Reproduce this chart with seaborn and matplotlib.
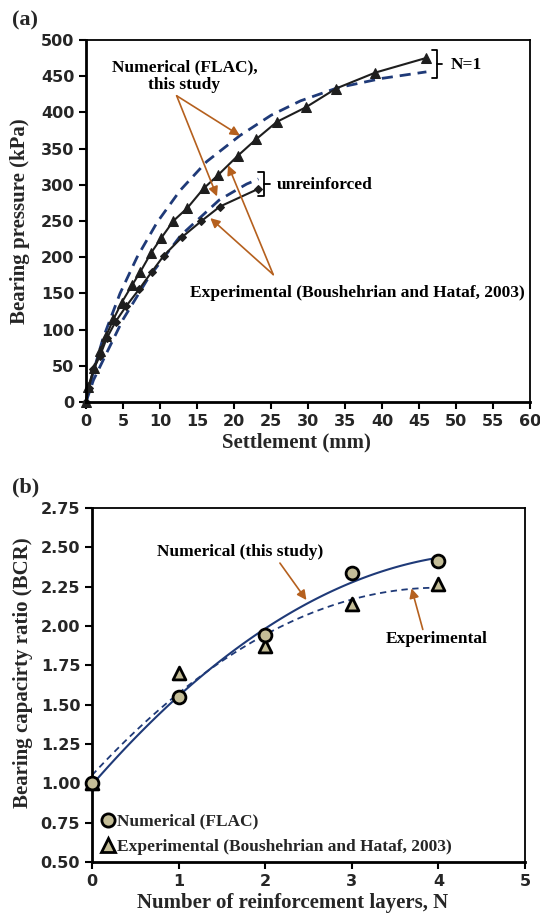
import numpy as np
import pandas as pd
import seaborn as sns
import matplotlib
matplotlib.use("Agg")
import matplotlib.pyplot as plt
from matplotlib.lines import Line2D

# ---------------- data: panel (a) ----------------
num_n1_settle = [0, 0.3, 1.1, 1.9, 2.7, 3.7, 4.8, 6.2, 7.3, 8.8, 10.2, 11.8, 13.7, 15.9, 17.8, 20.5, 23.0, 25.8, 29.7, 33.8, 39.1, 45.9]
num_n1_press = [0, 21, 47, 70, 91, 114, 137, 161, 179, 206, 227, 250, 268, 295, 313, 340, 363, 387, 407, 433, 455, 475]

num_unr_settle = [0, 0.4, 1.0, 1.9, 2.8, 4.0, 5.4, 7.2, 8.9, 10.5, 13.0, 15.6, 18.1, 23.2]
num_unr_press = [0, 20, 45, 64, 88, 111, 132, 156, 180, 202, 228, 250, 270, 294]

exp_n1_settle = [0, 1.0, 2.3, 4.6, 6.9, 9.6, 12.7, 16.3, 20.8, 25.0, 29.0, 34.0, 40.0, 46.0]
exp_n1_press = [0, 42, 88, 150, 200, 248, 292, 332, 368, 396, 416, 434, 447, 456]

exp_unr_settle = [0, 1.0, 2.8, 5.0, 8.4, 12.8, 18.0, 21.7, 23.3]
exp_unr_press = [0, 30, 68, 114, 171, 230, 279, 301, 308]

settle_ticks = list(range(0, 61, 5))
press_ticks = list(range(0, 501, 50))

# ---------------- data: panel (b) ----------------
n_layers = [0, 1, 2, 3, 4]
bcr_numerical = [1.00, 1.55, 1.94, 2.34, 2.41]
bcr_experimental = [1.00, 1.70, 1.87, 2.14, 2.27]
n_ticks = [0, 1, 2, 3, 4, 5]
bcr_ticks = [0.50, 0.75, 1.00, 1.25, 1.50, 1.75, 2.00, 2.25, 2.50, 2.75]

# ---------------- style ----------------
sns.set_style("ticks")
plt.rcParams["font.family"] = ["DejaVu Sans"]
SERIF = ["Liberation Serif", "DejaVu Serif"]
TICKFONT = ["DejaVu Sans"]
DASH = "#1F3A78"
SOLID = "#1E1E1E"
ARROW = "#B5601E"
TAN = "#C4BD97"

fig = plt.figure(figsize=(5.4, 9.17), dpi=100)
axA = fig.add_axes([86 / 540, 1 - 402 / 917, 444 / 540, 362 / 917])
axB = fig.add_axes([92 / 540, 1 - 862 / 917, 433 / 540, 354 / 917])


def style_axes(ax, tick_size):
    for s in ["left", "bottom"]:
        ax.spines[s].set_linewidth(2.0)
    for s in ["top", "right"]:
        ax.spines[s].set_linewidth(1.3)
    for s in ax.spines.values():
        s.set_color("black")
    ax.tick_params(direction="out", length=5, width=1.5, color="black", pad=3.5,
                   labelsize=tick_size, top=False, right=False)
    for lab in ax.get_xticklabels() + ax.get_yticklabels():
        lab.set_fontweight("bold")
        lab.set_family(TICKFONT)


# ---------------- panel (a) ----------------
sns.lineplot(x=exp_n1_settle, y=exp_n1_press, ax=axA, color=DASH, lw=2.0,
             linestyle=(0, (4, 2.5)), sort=False, estimator=None, clip_on=False)
sns.lineplot(x=exp_unr_settle, y=exp_unr_press, ax=axA, color=DASH, lw=2.0,
             linestyle=(0, (4, 2.5)), sort=False, estimator=None, clip_on=False)
sns.lineplot(x=num_n1_settle, y=num_n1_press, ax=axA, color=SOLID, lw=1.5,
             marker="^", markersize=7, markerfacecolor=SOLID, markeredgecolor=SOLID,
             sort=False, estimator=None, clip_on=False)
sns.lineplot(x=num_unr_settle, y=num_unr_press, ax=axA, color=SOLID, lw=1.5,
             marker="D", markersize=4.5, markerfacecolor=SOLID, markeredgecolor=SOLID,
             sort=False, estimator=None, clip_on=False)

axA.set_xlim(0, 60)
axA.set_ylim(0, 500)
axA.set_xticks(settle_ticks)
axA.set_yticks(press_ticks)
style_axes(axA, 11.5)
axA.set_xlabel("Settlement (mm)", family=SERIF, fontweight="bold", fontsize=15, va="center")
axA.set_ylabel("Bearing pressure (kPa)", family=SERIF, fontweight="bold", fontsize=15, va="center")
axA.xaxis.set_label_coords(0.474, -0.113)
axA.yaxis.set_label_coords(-0.149, 0.5)

txtkw = dict(family=SERIF, fontweight="bold", fontsize=12.5, color="black")
axA.text(13.3, 450, "Numerical (FLAC),\nthis study", ha="center", va="center",
         linespacing=1.1, **txtkw)
axA.text(36.7, 151, "Experimental (Boushehrian and Hataf, 2003)", ha="center", va="center", **txtkw)
axA.text(25.8, 300, "unreinforced", ha="left", va="center", **txtkw)
axA.text(49.3, 466, "N=1", ha="left", va="center", **txtkw)

arrkw = dict(arrowstyle="-|>", color=ARROW, lw=1.2, mutation_scale=14, shrinkA=0, shrinkB=0)
axA.annotate("", xy=(20.8, 368), xytext=(12.25, 423), arrowprops=arrkw)
axA.annotate("", xy=(17.7, 284), xytext=(12.25, 423), arrowprops=arrkw)
axA.annotate("", xy=(19.2, 327), xytext=(25.3, 176), arrowprops=arrkw)
axA.annotate("", xy=(16.8, 254), xytext=(25.3, 176), arrowprops=arrkw)

# curly-brace style brackets
axA.plot([46.8, 47.4, 47.4, 46.8], [486, 486, 447, 447], color="black", lw=1.3)
axA.plot([47.4, 48.1], [466.5, 466.5], color="black", lw=1.3)
axA.plot([23.2, 24.05, 24.05, 23.2], [317, 317, 284, 284], color="black", lw=1.3)
axA.plot([24.05, 24.9], [300.5, 300.5], color="black", lw=1.3)

fig.text(12 / 540, 1 - 20 / 917, "(a)", family=SERIF, fontweight="bold", fontsize=16,
         ha="left", va="center")

# ---------------- panel (b) ----------------
sns.regplot(x=n_layers, y=bcr_numerical, order=2, ci=None, scatter=False, truncate=True,
            ax=axB, line_kws=dict(color=DASH, lw=1.5))
sns.regplot(x=n_layers, y=bcr_experimental, order=2, ci=None, scatter=False, truncate=True,
            ax=axB, line_kws=dict(color=DASH, lw=1.3, linestyle=(0, (3.5, 2.5))))
sns.scatterplot(x=n_layers, y=bcr_experimental, ax=axB, marker="^", s=85, color=TAN,
                edgecolor="black", linewidth=2, zorder=5, clip_on=False)
sns.scatterplot(x=n_layers, y=bcr_numerical, ax=axB, marker="o", s=85, color=TAN,
                edgecolor="black", linewidth=2, zorder=6, clip_on=False)

axB.set_xlim(0, 5)
axB.set_ylim(0.5, 2.75)
axB.set_xticks(n_ticks)
axB.set_yticks(bcr_ticks)
axB.set_yticklabels([f"{v:.2f}" for v in bcr_ticks])
style_axes(axB, 11.5)
axB.set_xlabel("Number of reinforcement layers, N", family=SERIF, fontweight="bold",
               fontsize=15, va="center")
axB.set_ylabel("Bearing capacirty ratio (BCR)", family=SERIF, fontweight="bold",
               fontsize=15, va="center")
axB.xaxis.set_label_coords(0.463, -0.116)
axB.yaxis.set_label_coords(-0.160, 0.535)

axB.text(1.705, 2.472, "Numerical (this study)", ha="center", va="center", **txtkw)
axB.text(3.977, 1.915, "Experimental", ha="center", va="center", **txtkw)
axB.annotate("", xy=(2.476, 2.165), xytext=(2.17, 2.40), arrowprops=arrkw)
axB.annotate("", xy=(3.69, 2.239), xytext=(3.82, 1.978), arrowprops=arrkw)

handles = [
    Line2D([], [], marker="o", linestyle="none", markersize=9.5, markerfacecolor=TAN,
           markeredgecolor="black", markeredgewidth=2),
    Line2D([], [], marker="^", linestyle="none", markersize=9.5, markerfacecolor=TAN,
           markeredgecolor="black", markeredgewidth=2),
]
leg = axB.legend(handles, ["Numerical (FLAC)", "Experimental (Boushehrian and Hataf, 2003)"],
                 loc="lower left", bbox_to_anchor=(-0.005, -0.011), frameon=False,
                 handlelength=0.9, handletextpad=0.05, labelspacing=0.55, borderaxespad=0.2,
                 prop=dict(family=SERIF, weight="bold", size=12.5))

fig.text(12 / 540, 1 - 487 / 917, "(b)", family=SERIF, fontweight="bold", fontsize=16,
         ha="left", va="center")

fig.savefig("out.png", dpi=100)
